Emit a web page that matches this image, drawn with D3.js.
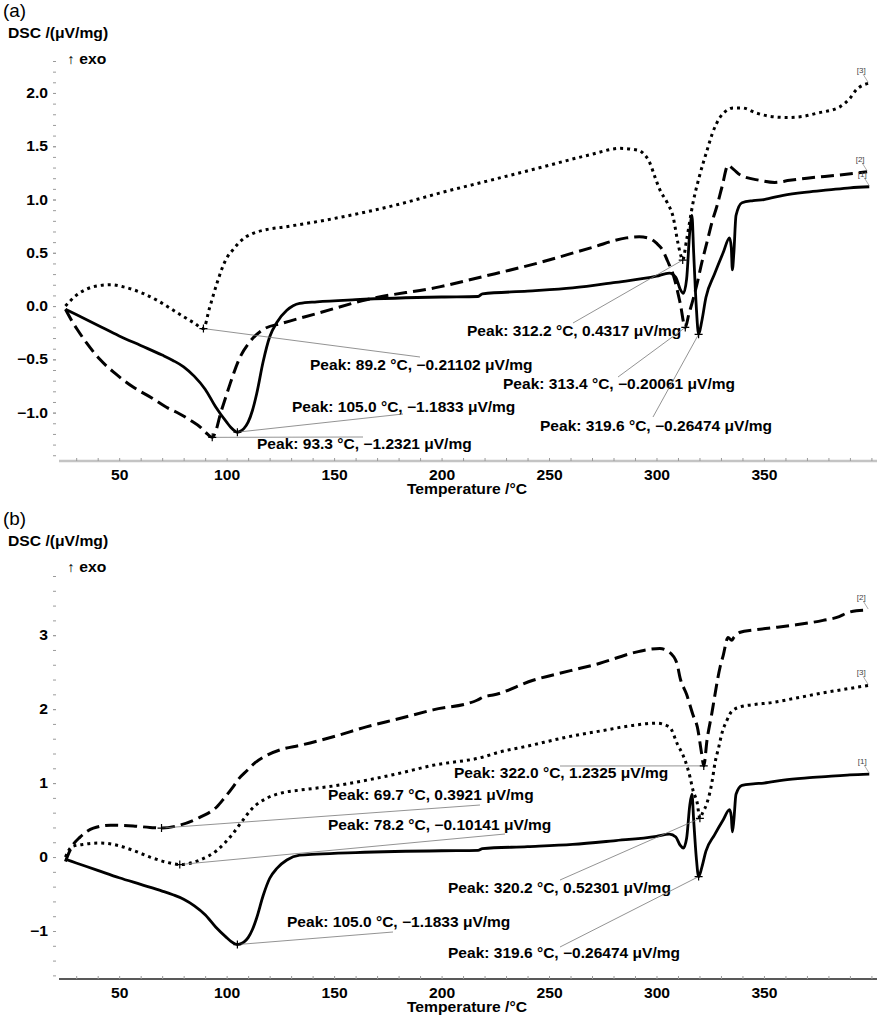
<!DOCTYPE html>
<html>
<head>
<meta charset="utf-8">
<script src="https://cdn.jsdelivr.net/npm/d3@7/dist/d3.min.js"></script>
<style>
  body { margin: 0; background: #fff; }
  svg { display: block; }
  text { font-family: "Liberation Sans", Arial, sans-serif; }
</style>
</head>
<body>
<svg id="chart" width="880" height="1024"></svg>
<script>
// ---------------- DATA ----------------
// Curve [1] (solid) – identical in both panels
const t1 = [25,30,40,50,60,70,75,80,85,90,95,100,102,104,105,106,108,110,112,114,117,120,123.5,128,134,142,160,200,217,219,240,261,280,300,306,309,311,312.5,314,315.5,316.5,317.3,318.5,319.6,321,323,327,331,334,334.8,335.3,336,337,339.8,345,350,359,370,380,390,399];
const v1 = [-0.03,-0.08,-0.18,-0.28,-0.37,-0.46,-0.51,-0.57,-0.66,-0.78,-0.95,-1.09,-1.14,-1.175,-1.183,-1.178,-1.15,-1.09,-0.98,-0.82,-0.52,-0.29,-0.15,-0.04,0.025,0.04,0.06,0.085,0.09,0.115,0.14,0.17,0.22,0.28,0.31,0.27,0.16,0.12,0.25,0.7,0.85,0.5,0.0,-0.265,-0.15,0.08,0.3,0.5,0.64,0.55,0.34,0.5,0.85,0.97,0.99,1.0,1.04,1.07,1.09,1.11,1.12];

// Panel (a) curve [2] (dashed)
const t2a = [25,28,30.5,35,41,48,56.5,65,72,78,83,88,91,93.3,95,97,99.5,101.6,106,111,117,126,142,165,199,220,246,270,286,292,296,300,303,305,308,311,313.4,315,317,319,321,323.5,326,328,330.5,333.3,336,339,348,355,362,370,385,398];
const v2a = [-0.03,-0.14,-0.22,-0.35,-0.5,-0.63,-0.76,-0.86,-0.95,-1.01,-1.07,-1.14,-1.2,-1.232,-1.17,-1.02,-0.86,-0.73,-0.49,-0.33,-0.22,-0.16,-0.07,0.06,0.18,0.28,0.41,0.55,0.64,0.65,0.64,0.59,0.52,0.43,0.28,0.03,-0.201,-0.08,0.06,0.22,0.4,0.6,0.8,0.93,1.12,1.32,1.28,1.23,1.18,1.16,1.18,1.2,1.23,1.26];

// Panel (a) curve [3] (dotted)
const t3a = [25,30,35,40,46,52,61,68,73.7,80,85,89.2,92,95.6,98,100,103,106,109,112,119,126,149.5,181,199,222.6,246,269,283,292,294,297,299.3,301.6,305,307.7,310,311,312.2,314,317,320,323.5,326,329.5,333,335.6,339.7,346.7,353,360.7,368,374.6,385.3,390,393,398.5];
const v3a = [0.0,0.1,0.16,0.19,0.2,0.18,0.12,0.05,-0.02,-0.1,-0.16,-0.211,-0.02,0.22,0.36,0.45,0.53,0.6,0.65,0.68,0.72,0.74,0.82,0.96,1.06,1.18,1.3,1.42,1.48,1.46,1.43,1.34,1.21,1.09,0.97,0.84,0.59,0.5,0.432,0.62,0.97,1.22,1.46,1.62,1.77,1.84,1.86,1.86,1.81,1.78,1.77,1.78,1.81,1.87,1.95,2.03,2.09];

// Panel (b) curve [2] (dashed)
const t2b = [25,26.5,28,31.8,38,46,56.5,64.3,69.7,78,87.7,95.5,99,103,106,109.5,113,119,126,134,150,165,180,196,216.5,220,224,242.6,260,273.7,289,297,301.6,306,309.5,311,314,317,319,321,322,323.5,325.8,327,329.6,331,333.3,335,336,339,345,354,365,377.5,385,388.6,393,398.5];
const v2b = [-0.06,0.05,0.14,0.27,0.39,0.43,0.42,0.40,0.392,0.43,0.54,0.68,0.8,0.95,1.07,1.17,1.27,1.38,1.46,1.51,1.63,1.76,1.87,1.99,2.12,2.17,2.19,2.39,2.52,2.62,2.76,2.81,2.82,2.77,2.62,2.42,2.2,1.92,1.76,1.4,1.2325,1.58,1.95,2.16,2.57,2.72,2.97,2.93,2.97,3.04,3.07,3.1,3.14,3.2,3.25,3.3,3.33,3.34];

// Panel (b) curve [3] (dotted)
const t3b = [25,28,33,41,49,56.5,64.3,72,78.2,87.5,95.5,103,107.6,112,119,126,134,149.5,165.3,180,196,219,227,240,258,275,289,300,306,310,312,314.3,315.6,317,318.9,320.2,321.5,323.5,325.8,327.2,329,330.5,332.8,335,339,345,354,365,377.5,390,398.5];
const v3b = [0.0,0.14,0.17,0.19,0.16,0.09,0.0,-0.07,-0.101,-0.04,0.09,0.32,0.5,0.66,0.8,0.87,0.905,0.96,1.04,1.13,1.24,1.35,1.42,1.5,1.62,1.71,1.78,1.81,1.76,1.51,1.4,1.22,1.08,0.9,0.74,0.523,0.6,0.73,1.01,1.27,1.49,1.68,1.85,1.97,2.03,2.06,2.09,2.15,2.22,2.28,2.32];

// Peak annotations (temperature, value text)
const peakA_T = [312.2, 89.2, 313.4, 105.0, 93.3, 319.6];
const peakA_V = ["0.4317", "-0.21102", "-0.20061", "-1.1833", "-1.2321", "-0.26474"];
const peakB_T = [322.0, 69.7, 78.2, 105.0, 320.2, 319.6];
const peakB_V = ["1.2325", "0.3921", "-0.10141", "-1.1833", "0.52301", "-0.26474"];

// Axis ticks / labels
const xMajor = [50,100,150,200,250,300,350];
const yMajorA = [-1.0,-0.5,0.0,0.5,1.0,1.5,2.0];
const yMajorB = [-1,0,1,2,3];
const seriesNames = ["[1]","[2]","[3]"];

// ---------------- LAYOUT ----------------
// label text anchor (left, baseline) and leader-line end, in pixels
const layoutA = [
  {tx:467, ty:336, lx:573, ly:323},
  {tx:310, ty:370, lx:420, ly:357},
  {tx:503, ty:389, lx:618, ly:377},
  {tx:292, ty:412, lx:403, ly:414},
  {tx:257, ty:449, lx:363, ly:437},
  {tx:540, ty:431, lx:653, ly:417}
];
const layoutB = [
  {tx:454, ty:778, lx:560, ly:766},
  {tx:328, ty:800, lx:480, ly:805},
  {tx:328, ty:830, lx:505, ly:834},
  {tx:287, ty:927, lx:393, ly:932},
  {tx:448, ty:893, lx:560, ly:880},
  {tx:448, ty:958, lx:560, ly:947}
];

const SX = 1.12; // horizontal text stretch of the original
const svg = d3.select("#chart");
const x = d3.scaleLinear().domain([22, 402.6]).range([59, 877]);
const fmtMinus = s => s.replace("-", "\u2212");

function stretchText(sel, x0, y0, str, opts) {
  const g = sel.append("g").attr("transform", `translate(${x0},${y0}) scale(${opts.sx || SX},1)`);
  return g.append("text").text(str)
    .attr("font-size", opts.size || 14)
    .attr("font-weight", opts.weight || "bold")
    .attr("fill", opts.fill || "#000")
    .attr("text-anchor", opts.anchor || "start");
}

function panel(cfg) {
  const g = svg.append("g");
  const y = d3.scaleLinear().domain(cfg.yDomain).range(cfg.yRange);
  const yBase = cfg.yRange[0];

  // Titles
  stretchText(g, 3, cfg.top + 17, cfg.letter, {size:18, weight:"normal", sx:1.05});
  stretchText(g, 8, cfg.top + 38, "DSC /(\u03bcV/mg)", {});
  stretchText(g, 67, cfg.top + 64, "\u2191 exo", {});

  // Y axis minor ticks
  const yMinor = d3.range(cfg.yMinor[0], cfg.yMinor[1] + 1e-9, cfg.yMinor[2]).map(v => +v.toFixed(2));
  g.append("g").attr("transform", "translate(56,0)")
    .call(d3.axisLeft(y).tickValues(yMinor).tickSize(3).tickFormat(""))
    .call(a => a.select(".domain").remove())
    .call(a => a.selectAll("line").attr("stroke", "#9a9a9a"));
  // Y axis labels
  g.append("g").attr("transform", "translate(56,0)")
    .call(d3.axisLeft(y).tickValues(cfg.yMajor).tickSize(3).tickPadding(5).tickFormat(cfg.yFmt))
    .call(a => a.select(".domain").remove())
    .call(a => a.selectAll("line").attr("stroke", "#9a9a9a"))
    .call(a => a.selectAll("text")
      .attr("font-size", 14).attr("font-weight", "bold").attr("fill", "#000")
      .attr("font-family", "Liberation Sans, Arial, sans-serif")
      .attr("x", -8 / SX).attr("transform", `scale(${SX},1)`));

  // X axis
  const xMinor = d3.range(30, 401, 10);
  g.append("line").attr("x1", 59).attr("x2", 877).attr("y1", yBase).attr("y2", yBase)
    .attr("stroke", cfg.axisColor).attr("stroke-width", cfg.axisWidth);
  g.append("g").attr("transform", `translate(0,${yBase})`)
    .call(d3.axisBottom(x).tickValues(xMinor).tickSize(-3).tickFormat(""))
    .call(a => a.select(".domain").remove())
    .call(a => a.selectAll("line").attr("stroke", "#9a9a9a"));
  g.append("g").attr("transform", `translate(0,${yBase})`)
    .call(d3.axisBottom(x).tickValues(xMajor).tickSize(0).tickPadding(9).tickFormat(d3.format("d")))
    .call(a => a.select(".domain").remove())
    .call(a => a.selectAll("text")
      .attr("font-size", 14).attr("font-weight", "bold").attr("fill", "#000")
      .attr("font-family", "Liberation Sans, Arial, sans-serif")
      .attr("transform", `scale(${SX},1)`));
  stretchText(g, 467, yBase + 33, "Temperature /\u00b0C", {anchor:"middle"});

  // Curves
  const line = d3.line().x(d => x(d[0])).y(d => y(d[1])).curve(d3.curveMonotoneX);
  const styles = {
    1: {dash: null, w: 2.8},
    2: {dash: "13 6", w: 3},
    3: {dash: "3 4", w: 3}
  };
  const curves = cfg.curves;
  [3, 2, 1].forEach(k => {
    const c = curves[k];
    const pts = c.t.map((t, i) => [t, c.v[i]]);
    g.append("path").attr("d", line(pts))
      .attr("fill", "none").attr("stroke", "#000")
      .attr("stroke-width", styles[k].w)
      .attr("stroke-linejoin", "round")
      .attr("stroke-dasharray", styles[k].dash);
    // series label at the end
    const xe = x(c.t[c.t.length - 1]), ye = y(c.v[c.v.length - 1]);
    g.append("line").attr("x1", xe - 5).attr("y1", ye - 9).attr("x2", xe).attr("y2", ye - 1)
      .attr("stroke", "#888").attr("stroke-width", 0.7);
    g.append("text").text(seriesNames[k - 1]).attr("x", xe - 7).attr("y", ye - 10)
      .attr("font-size", 8).attr("fill", "#444").attr("text-anchor", "middle");
  });

  // Peak annotations
  cfg.peakT.forEach((t, i) => {
    const val = parseFloat(cfg.peakV[i]);
    const px = x(t), py = y(val);
    const L = cfg.layout[i];
    g.append("line").attr("x1", px).attr("y1", py).attr("x2", L.lx).attr("y2", L.ly)
      .attr("stroke", "#777").attr("stroke-width", 0.8);
    g.append("path").attr("d", `M${px - 4},${py}H${px + 4}M${px},${py - 4}V${py + 4}`)
      .attr("stroke", "#000").attr("stroke-width", 1.2);
    const txt = `Peak: ${t.toFixed(1)} \u00b0C, ${fmtMinus(cfg.peakV[i])} \u03bcV/mg`;
    stretchText(g, L.tx, L.ty, txt, {sx:1.11});
  });
}

panel({
  letter: "(a)", top: 0,
  yDomain: [-1.454, 2.3], yRange: [461, 61],
  yMinor: [-1.4, 2.3, 0.1], yMajor: yMajorA, yFmt: d => fmtMinus(d3.format(".1f")(d)),
  axisColor: "#c4c4c4", axisWidth: 2.5,
  curves: {1: {t: t1, v: v1}, 2: {t: t2a, v: v2a}, 3: {t: t3a, v: v3a}},
  peakT: peakA_T, peakV: peakA_V, layout: layoutA
});
panel({
  letter: "(b)", top: 508,
  yDomain: [-1.649, 3.8], yRange: [979, 576],
  yMinor: [-1.6, 3.8, 0.2], yMajor: yMajorB, yFmt: d => fmtMinus(d3.format("d")(d)),
  axisColor: "#222", axisWidth: 1.5,
  curves: {1: {t: t1, v: v1}, 2: {t: t2b, v: v2b}, 3: {t: t3b, v: v3b}},
  peakT: peakB_T, peakV: peakB_V, layout: layoutB
});
</script>
</body>
</html>
